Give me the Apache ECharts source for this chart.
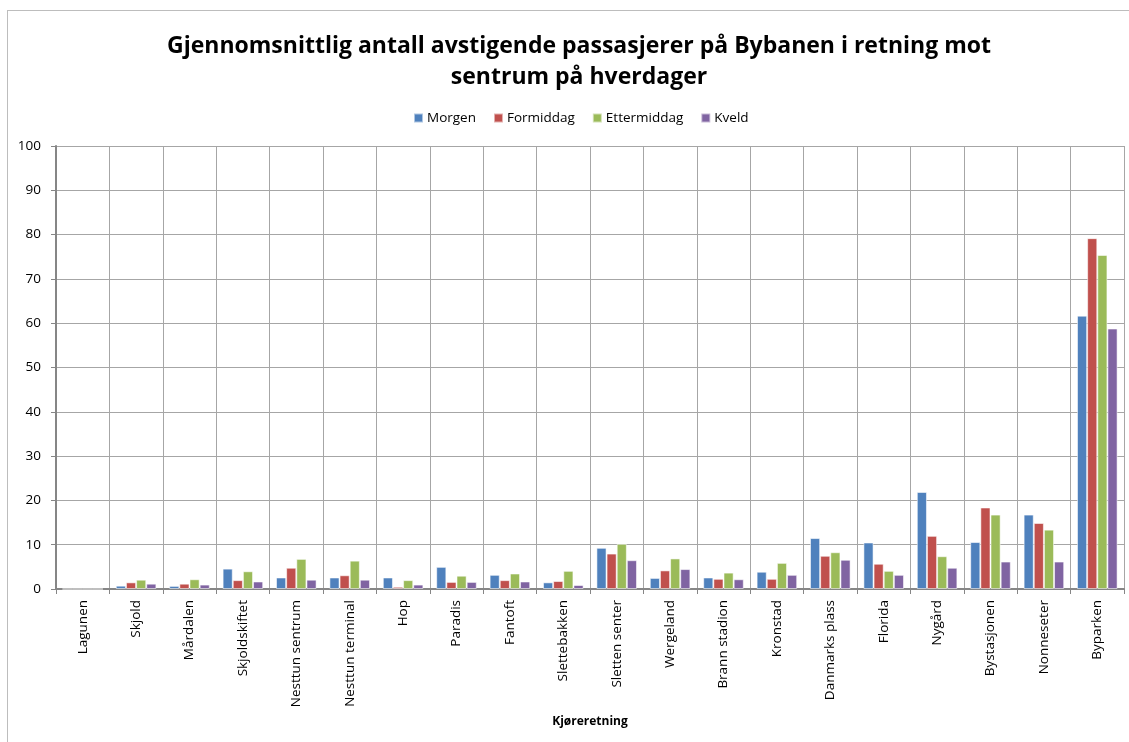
<!DOCTYPE html>
<html>
<head>
<meta charset="utf-8">
<script src="https://cdn.jsdelivr.net/npm/echarts@6/dist/echarts.min.js"></script>
<style>
  html, body { margin: 0; padding: 0; background: #fff; overflow: hidden; }
  #frame {
    position: absolute; left: 7px; top: 10px; width: 1140px; height: 760px;
    border: 1px solid #bdbdbd; box-sizing: border-box;
  }
  #chart { position: absolute; left: 0; top: 0; width: 1129px; height: 742px; }
</style>
</head>
<body>
<div id="frame"></div>
<div id="chart"></div>
<script>
const stations = ['Lagunen', 'Skjold', 'Mårdalen', 'Skjoldskiftet', 'Nesttun sentrum', 'Nesttun terminal',
  'Hop', 'Paradis', 'Fantoft', 'Slettebakken', 'Sletten senter', 'Wergeland', 'Brann stadion',
  'Kronstad', 'Danmarks plass', 'Florida', 'Nygård', 'Bystasjonen', 'Nonneseter', 'Byparken']
const seriesNames = ['Morgen', 'Formiddag', 'Ettermiddag', 'Kveld']
const morgen = [0, 0.75, 0.7, 4.6, 2.6, 2.6, 2.6, 5.0, 3.2, 1.5, 9.3, 2.5, 2.6, 3.9, 11.5, 10.5, 21.9, 10.6, 16.8, 61.7]
const formiddag = [0, 1.5, 1.2, 2.0, 4.8, 3.1, 0.5, 1.6, 2.0, 1.8, 8.0, 4.2, 2.3, 2.3, 7.5, 5.7, 12.0, 18.4, 14.9, 79.2]
const ettermiddag = [0, 2.1, 2.2, 4.0, 6.8, 6.4, 2.0, 3.0, 3.5, 4.1, 10.2, 6.9, 3.7, 5.9, 8.3, 4.1, 7.4, 16.8, 13.4, 75.4]
const kveld = [0, 1.2, 1.0, 1.7, 2.1, 2.1, 1.0, 1.6, 1.7, 0.9, 6.5, 4.5, 2.2, 3.2, 6.6, 3.2, 4.8, 6.2, 6.2, 58.8]
const yTicks = [0, 10, 20, 30, 40, 50, 60, 70, 80, 90, 100]

const colors = ['#4F81BD', '#C0504D', '#9BBB59', '#8064A2']
const values = [morgen, formiddag, ettermiddag, kveld]
const font = 'Open Sans, Noto Sans, sans-serif'

const chart = echarts.init(document.getElementById('chart'), null, { renderer: 'canvas' })
chart.setOption({
  animation: false,
  textStyle: { fontFamily: font },
  title: {
    text: 'Gjennomsnittlig antall avstigende passasjerer på Bybanen i retning mot\nsentrum på hverdager',
    left: 574,
    textAlign: 'center',
    top: 26,
    textStyle: { fontSize: 23, fontWeight: 'bold', color: '#000', lineHeight: 31, fontFamily: font }
  },
  legend: {
    data: seriesNames,
    top: 106,
    left: 408,
    itemWidth: 9,
    itemHeight: 9,
    itemGap: 17,
    icon: 'rect',
    textStyle: { fontSize: 13.5, color: '#000', padding: [0, 0, 0, -1] }
  },
  grid: { left: 56, right: 5, top: 146, bottom: 153, containLabel: false },
  xAxis: {
    type: 'category',
    data: stations,
    name: 'Kjøreretning',
    nameLocation: 'middle',
    nameGap: 126,
    nameTextStyle: { fontSize: 12, fontWeight: 'bold', color: '#000' },
    axisLine: { lineStyle: { color: '#868686', width: 2 } },
    axisTick: { show: true, length: 5, lineStyle: { color: '#868686' } },
    axisLabel: { rotate: 90, fontSize: 13.5, color: '#000', margin: 11, interval: 0 },
    splitLine: { show: true, lineStyle: { color: '#a6a6a6', width: 1 } }
  },
  yAxis: {
    type: 'value',
    min: 0,
    max: 100,
    interval: 10,
    axisLine: { show: true, lineStyle: { color: '#868686', width: 2 } },
    axisTick: { show: true, length: 5, lineStyle: { color: '#868686' } },
    axisLabel: {
      fontSize: 13.5, color: '#000', margin: 15,
      formatter: v => (yTicks.includes(v) ? String(v) : '')
    },
    splitLine: { lineStyle: { color: '#a6a6a6', width: 1 } }
  },
  series: seriesNames.map((name, i) => ({
    name,
    type: 'bar',
    data: values[i],
    barGap: '0%',
    barCategoryGap: '24%',
    itemStyle: { color: colors[i], borderColor: 'rgba(255,255,255,0.55)', borderWidth: 1 }
  }))
})
</script>
</body>
</html>
